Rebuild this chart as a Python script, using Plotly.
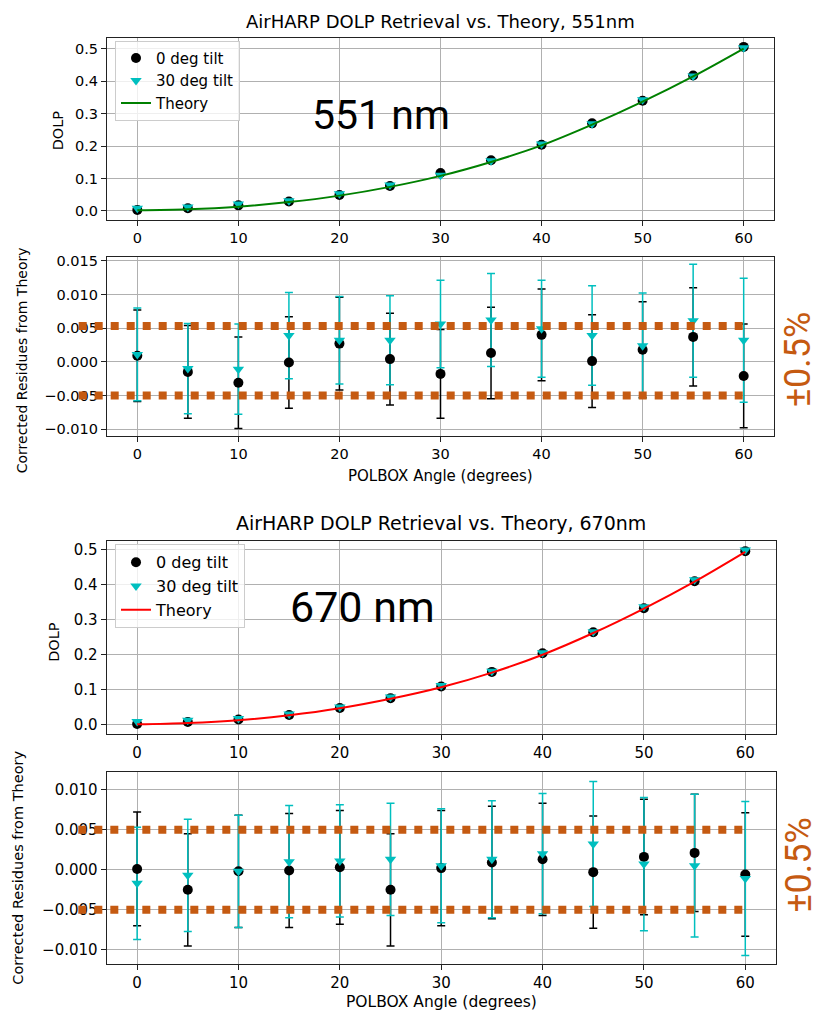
import plotly.graph_objects as go

# ---------------- data ----------------
ANGLES = [0, 5, 10, 15, 20, 25, 30, 35, 40, 45, 50, 55, 60]
X_TICKS = [0, 10, 20, 30, 40, 50, 60]

THEORY_551 = [0.0015, 0.005, 0.013, 0.027, 0.047, 0.074, 0.108, 0.151, 0.202, 0.266, 0.337, 0.415, 0.501]
DOLP_551_0 = [0.003, 0.008, 0.017, 0.029, 0.049, 0.077, 0.117, 0.156, 0.204, 0.270, 0.340, 0.418, 0.506]
DOLP_551_30 = [0.008, 0.012, 0.021, 0.031, 0.053, 0.080, 0.110, 0.155, 0.206, 0.269, 0.343, 0.416, 0.503]

THEORY_670 = [0.001, 0.005, 0.013, 0.027, 0.047, 0.074, 0.107, 0.149, 0.200, 0.262, 0.332, 0.409, 0.494]
DOLP_670_0 = [0.002, 0.008, 0.015, 0.028, 0.048, 0.076, 0.109, 0.151, 0.204, 0.264, 0.333, 0.410, 0.496]
DOLP_670_30 = [0.009, 0.013, 0.018, 0.031, 0.051, 0.079, 0.112, 0.153, 0.206, 0.266, 0.337, 0.414, 0.499]

RES_551_0 = [0.0009, -0.0015, -0.0031, -0.0001, 0.0027, 0.0004, -0.0018, 0.0013, 0.0040, 0.0001, 0.0018, 0.0037, -0.0021]
ERR_551_0 = [0.0068, 0.0069, 0.0068, 0.0068, 0.0069, 0.0068, 0.0066, 0.0068, 0.0068, 0.0069, 0.0071, 0.0073, 0.0077]
RES_551_30 = [0.0011, -0.0010, -0.0011, 0.0039, 0.0032, 0.0032, 0.0056, 0.0062, 0.0049, 0.0039, 0.0024, 0.0061, 0.0032]
ERR_551_30 = [0.0069, 0.0067, 0.0067, 0.0064, 0.0065, 0.0066, 0.0065, 0.0069, 0.0072, 0.0074, 0.0078, 0.0084, 0.0092]

RES_670_0 = [0.0001, -0.0025, -0.0002, -0.0001, 0.0003, -0.0025, 0.0002, 0.0009, 0.0013, -0.0003, 0.0016, 0.0021, -0.0006]
ERR_670_0 = [0.0071, 0.0070, 0.0070, 0.0071, 0.0071, 0.0070, 0.0072, 0.0070, 0.0070, 0.0070, 0.0072, 0.0073, 0.0077]
RES_670_30 = [-0.0017, -0.0007, -0.0002, 0.0010, 0.0011, 0.0013, 0.0005, 0.0013, 0.0020, 0.0032, 0.0007, 0.0005, -0.0011]
ERR_670_30 = [0.0070, 0.0070, 0.0070, 0.0070, 0.0070, 0.0070, 0.0071, 0.0073, 0.0075, 0.0078, 0.0083, 0.0089, 0.0096]

THRESH_551 = [0.0053, -0.0050]
THRESH_670 = [0.0050, -0.0050]
THRESH_X_SPAN = [-5.8, 60.0]
THRESH_LABEL = "±0.5%"

TITLE_551 = "AirHARP DOLP Retrieval vs. Theory, 551nm"
TITLE_670 = "AirHARP DOLP Retrieval vs. Theory, 670nm"
LABEL_551 = "551 nm"
LABEL_670 = "670 nm"
LEGEND_NAMES = ["0 deg tilt", "30 deg tilt", "Theory"]

# ---------------- styles ----------------
W, H = 821, 1014
FONT = "DejaVu Sans"
NARROW = "Roboto, sans-serif"
BLACK = "#000000"
CYAN = "#00BFBF"
ORANGE = "#C55A11"
GRID = "#b0b0b0"


def px(xp):
    return xp / W


def py(yp):
    return 1 - yp / H


XRANGE = [-3.0, 63.0]
PANELS = [
    dict(xd=(107, 774), yd=(217, 34), yr=[-0.028, 0.534], dt=0.1, fmt=".1f", fs=14.5),
    dict(xd=(107, 774), yd=(434, 254), yr=[-0.0110, 0.0156], dt=0.005, fmt=".3f", fs=14.5),
    dict(xd=(106.7, 775.7), yd=(734, 540), yr=[-0.0276, 0.524], dt=0.1, fmt=".1f", fs=15),
    dict(xd=(106.7, 775.7), yd=(964.3, 771.7), yr=[-0.0117, 0.0122], dt=0.005, fmt=".3f", fs=15),
]

fig = go.Figure()

layout = dict(
    width=W, height=H,
    margin=dict(l=0, r=0, t=0, b=0),
    paper_bgcolor="white", plot_bgcolor="white",
    font=dict(family=FONT, color=BLACK, size=14),
    showlegend=True,
)

for i, p in enumerate(PANELS):
    n = "" if i == 0 else str(i + 1)
    layout["xaxis" + n] = dict(
        domain=[px(p["xd"][0]), px(p["xd"][1])],
        range=XRANGE, anchor="y" + n,
        tickvals=X_TICKS, showgrid=True, gridcolor=GRID, gridwidth=1,
        zeroline=False, showline=True, mirror=True, linecolor="#222", linewidth=1.2,
        ticks="outside", ticklen=5, tickwidth=1, tickcolor="#222",
        tickfont=dict(family=FONT, size=p["fs"], color=BLACK),
    )
    layout["yaxis" + n] = dict(
        domain=[py(p["yd"][0]), py(p["yd"][1])],
        range=p["yr"], anchor="x" + n,
        dtick=p["dt"], tick0=0, tickformat=p["fmt"],
        showgrid=True, gridcolor=GRID, gridwidth=1,
        zeroline=False, showline=True, mirror=True, linecolor="#222", linewidth=1.2,
        ticks="outside", ticklen=5, tickwidth=1, tickcolor="#222",
        tickfont=dict(family=FONT, size=p["fs"], color=BLACK),
    )


def dolp_panel(xa, ya, d0, d30, theory, tcolor, legend, msize):
    fig.add_trace(go.Scatter(
        x=ANGLES, y=d0, mode="markers", name=LEGEND_NAMES[0],
        marker=dict(color=BLACK, size=msize, symbol="circle"),
        xaxis=xa, yaxis=ya, legend=legend))
    fig.add_trace(go.Scatter(
        x=ANGLES, y=d30, mode="markers", name=LEGEND_NAMES[1],
        marker=dict(color=CYAN, size=msize, symbol="triangle-down"),
        xaxis=xa, yaxis=ya, legend=legend))
    fig.add_trace(go.Scatter(
        x=ANGLES, y=theory, mode="lines", name=LEGEND_NAMES[2],
        line=dict(color=tcolor, width=2, shape="spline"),
        xaxis=xa, yaxis=ya, legend=legend))


def resid_panel(xa, ya, r0, e0, r30, e30):
    for r, e, c in ((r0, e0, BLACK), (r30, e30, CYAN)):
        fig.add_trace(go.Scatter(
            x=ANGLES, y=r, mode="markers",
            marker=dict(size=1, opacity=0, color=c),
            error_y=dict(type="data", array=e, visible=True, color=c,
                         thickness=1.5, width=4),
            xaxis=xa, yaxis=ya, showlegend=False, hoverinfo="skip"))
    fig.add_trace(go.Scatter(
        x=ANGLES, y=r0, mode="markers",
        marker=dict(color=BLACK, size=10, symbol="circle"),
        xaxis=xa, yaxis=ya, showlegend=False))
    fig.add_trace(go.Scatter(
        x=ANGLES, y=r30, mode="markers",
        marker=dict(color=CYAN, size=10, symbol="triangle-down"),
        xaxis=xa, yaxis=ya, showlegend=False))


dolp_panel("x", "y", DOLP_551_0, DOLP_551_30, THEORY_551, "#008000", "legend", 10)
resid_panel("x2", "y2", RES_551_0, ERR_551_0, RES_551_30, ERR_551_30)
dolp_panel("x3", "y3", DOLP_670_0, DOLP_670_30, THEORY_670, "#FF0000", "legend2", 10)
resid_panel("x4", "y4", RES_670_0, ERR_670_0, RES_670_30, ERR_670_30)

legend_style = dict(
    bgcolor="rgba(255,255,255,0.8)", bordercolor="#cccccc", borderwidth=1,
    xanchor="left", yanchor="top", tracegroupgap=0, itemwidth=30,
)
layout["legend"] = dict(x=px(115), y=py(37), font=dict(family=FONT, size=15, color=BLACK), **legend_style)
layout["legend2"] = dict(x=px(115), y=py(543), font=dict(family=FONT, size=16, color=BLACK), **legend_style)

shapes = []


def data_to_paper_x(v, p):
    d0, d1 = px(p["xd"][0]), px(p["xd"][1])
    return d0 + (v - XRANGE[0]) / (XRANGE[1] - XRANGE[0]) * (d1 - d0)


def data_to_paper_y(v, p):
    d0, d1 = py(p["yd"][0]), py(p["yd"][1])
    r0, r1 = p["yr"]
    return d0 + (v - r0) / (r1 - r0) * (d1 - d0)


for p, th in ((PANELS[1], THRESH_551), (PANELS[3], THRESH_670)):
    for v in th:
        yy = data_to_paper_y(v, p)
        shapes.append(dict(
            type="line", xref="paper", yref="paper",
            x0=data_to_paper_x(THRESH_X_SPAN[0], p), x1=data_to_paper_x(THRESH_X_SPAN[1], p),
            y0=yy, y1=yy,
            line=dict(color=ORANGE, width=8, dash="8px,8px"), layer="above"))
layout["shapes"] = shapes

ann = []
ann.append(dict(text=TITLE_551, x=px(440), y=py(18), xref="paper", yref="paper",
                showarrow=False, font=dict(family=FONT, size=18, color=BLACK),
                xanchor="center", yanchor="middle"))
ann.append(dict(text=TITLE_670, x=px(441), y=py(522), xref="paper", yref="paper",
                showarrow=False, font=dict(family=FONT, size=19, color=BLACK),
                xanchor="center", yanchor="middle"))
for xx, yy, t, fs in ((58, 127, "DOLP", 14.5), (22, 358, "Corrected Residues from Theory", 14),
                      (54, 641, "DOLP", 14.5), (18, 868, "Corrected Residues from Theory", 14.5)):
    ann.append(dict(text=t, x=px(xx), y=py(yy), xref="paper", yref="paper", textangle=-90,
                    showarrow=False, font=dict(family=FONT, size=fs, color=BLACK),
                    xanchor="center", yanchor="middle"))
for xx, yy, fs in ((440, 474, 15), (441, 1003, 15.5)):
    ann.append(dict(text="POLBOX Angle (degrees)", x=px(xx), y=py(yy), xref="paper", yref="paper",
                    showarrow=False, font=dict(family=FONT, size=fs, color=BLACK),
                    xanchor="center", yanchor="middle"))
ann.append(dict(text=LABEL_551, x=24.1, y=0.295, xref="x", yref="y", showarrow=False,
                font=dict(family=NARROW, size=41, color=BLACK), xanchor="center", yanchor="middle"))
ann.append(dict(text=LABEL_670, x=22.2, y=0.335, xref="x3", yref="y3", showarrow=False,
                font=dict(family=NARROW, size=43, color=BLACK), xanchor="center", yanchor="middle"))
ann.append(dict(text=THRESH_LABEL, x=px(798), y=py(357), xref="paper", yref="paper", textangle=-90,
                showarrow=False, font=dict(family=NARROW, size=36, color=ORANGE),
                xanchor="center", yanchor="middle"))
ann.append(dict(text=THRESH_LABEL, x=px(799), y=py(865), xref="paper", yref="paper", textangle=-90,
                showarrow=False, font=dict(family=NARROW, size=36, color=ORANGE),
                xanchor="center", yanchor="middle"))
layout["annotations"] = ann

fig.update_layout(**layout)
fig.write_html("out.html", config={"displayModeBar": False},
               post_script="document.body.style.margin='0';document.body.style.padding='0';")
